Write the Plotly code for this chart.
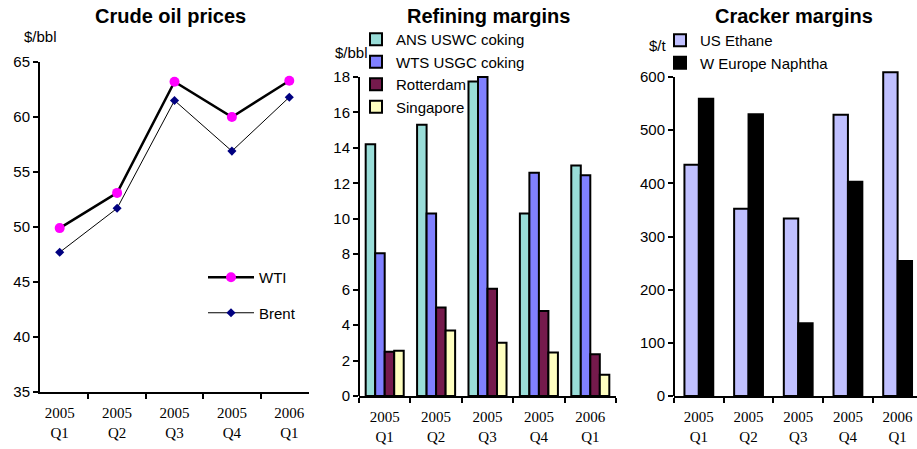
import plotly.graph_objects as go

# ---------------- data ----------------
quarters = ["2005<br>Q1", "2005<br>Q2", "2005<br>Q3", "2005<br>Q4", "2006<br>Q1"]

wti = [49.9, 53.1, 63.2, 60.0, 63.3]
brent = [47.7, 51.7, 61.5, 56.9, 61.8]

ans_uswc = [14.2, 15.3, 17.75, 10.3, 13.0]
wts_usgc = [8.05, 10.3, 18.0, 12.6, 12.45]
rotterdam = [2.5, 5.0, 6.05, 4.8, 2.35]
singapore = [2.55, 3.7, 3.0, 2.45, 1.2]

us_ethane = [435, 352, 334, 529, 609]
we_naphtha = [559, 530, 137, 403, 254]

W, H = 917, 449
SANS = "Liberation Sans, Arial, sans-serif"
SERIF = "Liberation Serif, Times New Roman, serif"


def px_x(p):
    return p / W


def px_y(p):
    return (H - p) / H


fig = go.Figure()

# ---------------- chart 1: crude oil prices ----------------
fig.add_trace(go.Scatter(
    x=quarters, y=wti, name="WTI", mode="lines+markers",
    line=dict(color="black", width=2.5),
    marker=dict(color="#FF00FF", size=10, symbol="circle"),
    xaxis="x", yaxis="y", legend="legend", legendgroup="wti",
))
fig.add_trace(go.Scatter(
    x=quarters, y=brent, name="Brent", mode="lines+markers",
    line=dict(color="black", width=1),
    marker=dict(color="#000080", size=7, symbol="diamond"),
    xaxis="x", yaxis="y", legend="legend", legendgroup="brent",
))

# ---------------- chart 2: refining margins ----------------
bar_line = dict(color="black", width=2)
for name, vals, col in [
    ("ANS USWC coking", ans_uswc, "#99DDD8"),
    ("WTS USGC coking", wts_usgc, "#8080FF"),
    ("Rotterdam", rotterdam, "#751A4C"),
    ("Singapore", singapore, "#FFFFC0"),
]:
    fig.add_trace(go.Bar(
        x=quarters, y=vals, name=name,
        marker=dict(color=col, line=bar_line),
        xaxis="x2", yaxis="y2", legend="legend2",
    ))

# ---------------- chart 3: cracker margins ----------------
fig.add_trace(go.Bar(
    x=quarters, y=us_ethane, name="US Ethane",
    marker=dict(color="#C0C0FF", line=bar_line),
    width=0.29, offset=-0.29,
    xaxis="x3", yaxis="y3", legend="legend3",
))
fig.add_trace(go.Bar(
    x=quarters, y=we_naphtha, name="W Europe Naphtha",
    marker=dict(color="black", line=bar_line),
    width=0.29, offset=0,
    xaxis="x3", yaxis="y3", legend="legend3",
))

# ---------------- axes ----------------
xcommon = dict(
    type="category", showgrid=False, zeroline=False, automargin=False,
    showline=True, linecolor="black", linewidth=2,
    ticks="outside", tickson="boundaries", ticklen=5, tickwidth=2, tickcolor="black",
    tickfont=dict(family=SERIF, size=15, color="black"),
    ticklabelstandoff=6, fixedrange=True,
)
ycommon = dict(
    showgrid=False, zeroline=False, automargin=False,
    ticks="outside", ticklen=5, tickwidth=2, tickcolor="black",
    tickfont=dict(family=SANS, size=15, color="black"),
    fixedrange=True,
)

fig.update_layout(
    xaxis=dict(xcommon, domain=[px_x(40), px_x(309)], anchor="y"),
    yaxis=dict(ycommon, domain=[px_y(392), px_y(62)], range=[35, 65], dtick=5,
               showline=True, linecolor="black", linewidth=2, anchor="x"),
    xaxis2=dict(xcommon, domain=[px_x(359), px_x(616)], anchor="y2"),
    yaxis2=dict(ycommon, domain=[px_y(396), px_y(70.8)], range=[0, 18.35],
                tickvals=list(range(0, 19, 2)), showline=False, anchor="x2"),
    xaxis3=dict(xcommon, domain=[px_x(674), 1.0], range=[-0.5, 4.39], anchor="y3"),
    yaxis3=dict(ycommon, domain=[px_y(396), px_y(66.4)], range=[0, 620],
                tickvals=list(range(0, 601, 100)), showline=False, anchor="x3"),
)

# y-axis lines that stop at the top tick (bars may rise above it)
fig.add_shape(type="line", xref="x2 domain", yref="y2", x0=0, x1=0, y0=0, y1=18,
              line=dict(color="black", width=2))
fig.add_shape(type="line", xref="x3 domain", yref="y3", x0=0, x1=0, y0=0, y1=600,
              line=dict(color="black", width=2))

# ---------------- titles and unit labels ----------------
for txt, cx in [("Crude oil prices", 170), ("Refining margins", 488), ("Cracker margins", 794)]:
    fig.add_annotation(text="<b>" + txt + "</b>", x=px_x(cx), y=px_y(16), xref="paper", yref="paper",
                       xanchor="center", yanchor="middle", showarrow=False,
                       font=dict(family=SANS, size=20, color="black"))
for txt, cx, cy in [("$/bbl", 40, 36), ("$/bbl", 351, 52), ("$/t", 658, 45)]:
    fig.add_annotation(text=txt, x=px_x(cx), y=px_y(cy), xref="paper", yref="paper",
                       xanchor="center", yanchor="middle", showarrow=False,
                       font=dict(family=SANS, size=15, color="black"))

# ---------------- legends ----------------
legfont = dict(family=SANS, size=15, color="black")
fig.update_layout(
    legend=dict(x=px_x(203), y=px_y(261), xanchor="left", yanchor="top",
                bgcolor="rgba(0,0,0,0)", font=legfont, itemwidth=46,
                tracegroupgap=13, traceorder="grouped"),
    legend2=dict(x=px_x(356), y=px_y(23), xanchor="left", yanchor="top",
                 bgcolor="rgba(0,0,0,0)", font=legfont, tracegroupgap=0,
                 traceorder="normal"),
    legend3=dict(x=px_x(660), y=px_y(24), xanchor="left", yanchor="top",
                 bgcolor="rgba(0,0,0,0)", font=legfont, tracegroupgap=0,
                 traceorder="normal"),
)

fig.update_layout(
    width=W, height=H, margin=dict(l=0, r=0, t=0, b=0),
    paper_bgcolor="white", plot_bgcolor="white",
    barmode="group", bargap=0.26, bargroupgap=0,
    showlegend=True,
    font=dict(family=SANS, size=14, color="black"),
)

fig.write_html("out.html")
